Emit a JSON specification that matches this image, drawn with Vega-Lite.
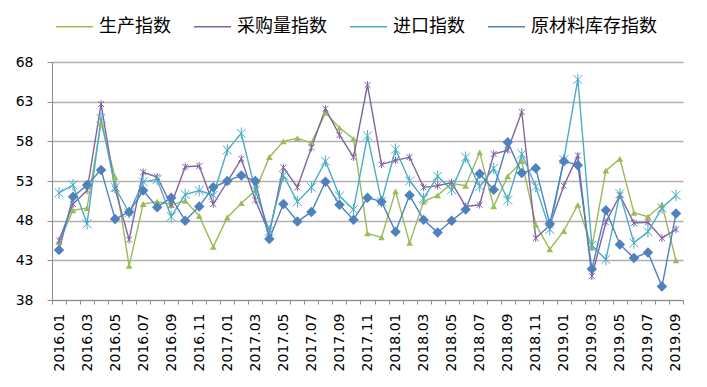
{
  "$schema": "https://vega.github.io/schema/vega-lite/v6.json",
  "width": 631,
  "height": 238,
  "autosize": {"type": "none"},
  "padding": {"left": 52, "top": 62, "right": 24, "bottom": 87},
  "background": "white",
  "config": {"view": {"stroke": null}, "font": "DejaVu Sans"},
  "data": {"values": [
    {"m": "2016.01", "生产指数": 45.3, "采购量指数": 45.5, "进口指数": 51.5, "原材料库存指数": 44.3},
    {"m": "2016.02", "生产指数": 49.3, "采购量指数": 50.1, "进口指数": 52.5, "原材料库存指数": 51.0},
    {"m": "2016.03", "生产指数": 49.6, "采购量指数": 51.8, "进口指数": 47.6, "原材料库存指数": 52.5},
    {"m": "2016.04", "生产指数": 60.3, "采购量指数": 62.7, "进口指数": 60.9, "原材料库存指数": 54.4},
    {"m": "2016.05", "生产指数": 53.5, "采购量指数": 52.0, "进口指数": 52.2, "原材料库存指数": 48.2},
    {"m": "2016.06", "生产指数": 42.3, "采购量指数": 45.6, "进口指数": 49.0, "原材料库存指数": 49.1},
    {"m": "2016.07", "生产指数": 50.1, "采购量指数": 54.1, "进口指数": 52.9, "原材料库存指数": 51.8},
    {"m": "2016.08", "生产指数": 50.4, "采购量指数": 53.5, "进口指数": 53.2, "原材料库存指数": 49.7},
    {"m": "2016.09", "生产指数": 50.0, "采购量指数": 50.0, "进口指数": 48.5, "原材料库存指数": 50.9},
    {"m": "2016.10", "生产指数": 50.5, "采购量指数": 54.8, "进口指数": 51.3, "原材料库存指数": 48.0},
    {"m": "2016.11", "生产指数": 48.6, "采购量指数": 54.9, "进口指数": 51.8, "原材料库存指数": 49.8},
    {"m": "2016.12", "生产指数": 44.7, "采购量指数": 50.1, "进口指数": 51.2, "原材料库存指数": 52.2},
    {"m": "2017.01", "生产指数": 48.4, "采购量指数": 52.9, "进口指数": 56.9, "原材料库存指数": 53.0},
    {"m": "2017.02", "生产指数": 50.2, "采购量指数": 55.8, "进口指数": 59.0, "原材料库存指数": 53.7},
    {"m": "2017.03", "生产指数": 51.8, "采购量指数": 50.6, "进口指数": 51.8, "原材料库存指数": 53.0},
    {"m": "2017.04", "生产指数": 56.0, "采购量指数": 46.4, "进口指数": 46.7, "原材料库存指数": 45.7},
    {"m": "2017.05", "生产指数": 58.0, "采购量指数": 54.7, "进口指数": 53.7, "原材料库存指数": 50.1},
    {"m": "2017.06", "生产指数": 58.4, "采购量指数": 52.2, "进口指数": 50.4, "原材料库存指数": 47.9},
    {"m": "2017.07", "生产指数": 57.8, "采购量指数": 57.2, "进口指数": 52.2, "原材料库存指数": 49.1},
    {"m": "2017.08", "生产指数": 61.6, "采购量指数": 62.1, "进口指数": 55.5, "原材料库存指数": 52.9},
    {"m": "2017.09", "生产指数": 59.7, "采购量指数": 58.8, "进口指数": 51.1, "原材料库存指数": 50.0},
    {"m": "2017.10", "生产指数": 58.3, "采购量指数": 56.0, "进口指数": 49.4, "原材料库存指数": 48.1},
    {"m": "2017.11", "生产指数": 46.4, "采购量指数": 65.1, "进口指数": 58.7, "原材料库存指数": 50.9},
    {"m": "2017.12", "生产指数": 45.9, "采购量指数": 55.1, "进口指数": 50.4, "原材料库存指数": 50.4},
    {"m": "2018.01", "生产指数": 51.7, "采购量指数": 55.6, "进口指数": 57.0, "原材料库存指数": 46.6},
    {"m": "2018.02", "生产指数": 45.2, "采购量指数": 56.0, "进口指数": 53.0, "原材料库存指数": 51.2},
    {"m": "2018.03", "生产指数": 50.4, "采购量指数": 52.2, "进口指数": 50.8, "原材料库存指数": 48.1},
    {"m": "2018.04", "生产指数": 51.2, "采购量指数": 52.4, "进口指数": 53.6, "原材料库存指数": 46.5},
    {"m": "2018.05", "生产指数": 52.7, "采购量指数": 52.8, "进口指数": 51.9, "原材料库存指数": 48.0},
    {"m": "2018.06", "生产指数": 52.4, "采购量指数": 49.8, "进口指数": 56.0, "原材料库存指数": 49.4},
    {"m": "2018.07", "生产指数": 56.6, "采购量指数": 50.0, "进口指数": 52.3, "原材料库存指数": 53.9},
    {"m": "2018.08", "生产指数": 49.8, "采购量指数": 56.4, "进口指数": 54.6, "原材料库存指数": 51.9},
    {"m": "2018.09", "生产指数": 53.6, "采购量指数": 56.9, "进口指数": 50.6, "原材料库存指数": 57.9},
    {"m": "2018.10", "生产指数": 55.5, "采购量指数": 61.7, "进口指数": 56.4, "原材料库存指数": 54.0},
    {"m": "2018.11", "生产指数": 47.5, "采购量指数": 45.8, "进口指数": 52.3, "原材料库存指数": 54.6},
    {"m": "2018.12", "生产指数": 44.4, "采购量指数": 47.4, "进口指数": 46.9, "原材料库存指数": 47.6},
    {"m": "2019.01", "生产指数": 46.7, "采购量指数": 52.4, "进口指数": 55.7, "原材料库存指数": 55.5},
    {"m": "2019.02", "生产指数": 50.0, "采购量指数": 56.2, "进口指数": 65.8, "原材料库存指数": 55.0},
    {"m": "2019.03", "生产指数": 44.6, "采购量指数": 41.0, "进口指数": 44.9, "原材料库存指数": 41.9},
    {"m": "2019.04", "生产指数": 54.3, "采购量指数": 47.8, "进口指数": 43.1, "原材料库存指数": 49.3},
    {"m": "2019.05", "生产指数": 55.8, "采购量指数": 51.2, "进口指数": 51.4, "原材料库存指数": 45.0},
    {"m": "2019.06", "生产指数": 49.0, "采购量指数": 47.7, "进口指数": 45.2, "原材料库存指数": 43.3},
    {"m": "2019.07", "生产指数": 48.5, "采购量指数": 47.8, "进口指数": 46.6, "原材料库存指数": 44.0},
    {"m": "2019.08", "生产指数": 50.0, "采购量指数": 45.8, "进口指数": 49.6, "原材料库存指数": 39.7},
    {"m": "2019.09", "生产指数": 43.0, "采购量指数": 46.9, "进口指数": 51.2, "原材料库存指数": 48.9}
  ]},
  "transform": [{"fold": ["生产指数", "采购量指数", "进口指数", "原材料库存指数"], "as": ["s", "v"]}],
  "encoding": {
    "x": {
      "field": "m", "type": "ordinal", "bandPosition": 0.5,
      "scale": {"type": "band", "paddingInner": 0, "paddingOuter": 0},
      "axis": {
        "title": null, "labelAngle": -90, "labelAlign": "right", "labelBaseline": "middle",
        "labelFont": "DejaVu Sans", "labelFontSize": 14, "labelColor": "#000000",
        "labelPadding": 9, "labelOverlap": false,
        "labelExpr": "toNumber(substring(datum.value, 5, 7)) % 2 == 1 ? datum.value : ''",
        "tickBand": "extent", "tickColor": "#8c8c8c", "tickSize": 4,
        "domainColor": "#8c8c8c", "grid": false
      }
    },
    "y": {
      "field": "v", "type": "quantitative",
      "scale": {"domain": [38, 68], "nice": false, "zero": false},
      "axis": {
        "title": null, "values": [38, 43, 48, 53, 58, 63, 68],
        "labelFont": "DejaVu Sans", "labelFontSize": 14, "labelColor": "#000000", "labelPadding": 14,
        "tickColor": "#8c8c8c", "tickSize": 5, "domainColor": "#8c8c8c",
        "grid": true, "gridColor": "#b0b0b0", "gridWidth": 1.5
      }
    }
  },
  "layer": [
    {
      "mark": {"type": "line", "strokeWidth": 1.4},
      "encoding": {
        "color": {
          "field": "s", "type": "nominal",
          "scale": {"domain": ["生产指数", "采购量指数", "进口指数", "原材料库存指数"], "range": ["#9BBB59", "#8064A2", "#4BACC6", "#4F81BD"]},
          "legend": {
            "orient": "none", "legendX": 3, "legendY": -55, "direction": "horizontal", "title": null,
            "labelFont": "Noto Sans CJK SC", "labelFontSize": 18, "labelColor": "#000000",
            "symbolType": "M-1,0H1", "symbolSize": 1369, "symbolStrokeWidth": 1.5,
            "labelOffset": 5, "columnPadding": 20, "labelLimit": 300
          }
        }
      }
    },
    {
      "transform": [{"filter": "datum.s === '生产指数'"}],
      "mark": {"type": "point", "shape": "triangle-up", "filled": true, "color": "#9BBB59", "opacity": 1, "size": 45}
    },
    {
      "transform": [{"filter": "datum.s === '采购量指数'"}],
      "mark": {"type": "point", "shape": "M-1,-1L1,1M-1,1L1,-1M0,-1.3V1.3", "filled": false, "color": "#8064A2", "opacity": 1, "size": 35, "strokeWidth": 1}
    },
    {
      "transform": [{"filter": "datum.s === '进口指数'"}],
      "mark": {"type": "point", "shape": "M-1,-1L1,1M-1,1L1,-1M0,-1.3V1.3", "filled": false, "color": "#4BACC6", "opacity": 1, "size": 80, "strokeWidth": 1}
    },
    {
      "transform": [{"filter": "datum.s === '原材料库存指数'"}],
      "mark": {"type": "point", "shape": "diamond", "filled": true, "color": "#4F81BD", "opacity": 1, "size": 110}
    }
  ]
}
